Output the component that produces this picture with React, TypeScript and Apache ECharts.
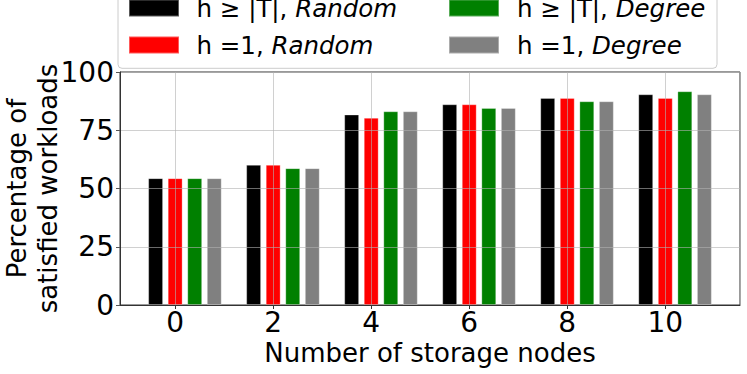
import React, { useEffect, useRef } from "react";
import * as echarts from "echarts";

const storageNodes = [0, 2, 4, 6, 8, 10];
const seriesNames = ["h ≥ |T|, Random", "h =1, Random", "h ≥ |T|, Degree", "h =1, Degree"];
const hTRandom = [54.4, 60.1, 81.7, 86.1, 88.8, 90.4];
const h1Random = [54.4, 60.1, 80.3, 86.1, 88.8, 88.8];
const hTDegree = [54.4, 58.7, 83.1, 84.5, 87.4, 91.7];
const h1Degree = [54.4, 58.7, 83.1, 84.5, 87.4, 90.4];
const seriesValues = [hTRandom, h1Random, hTDegree, h1Degree];
const colors = ["#000000", "#ff0000", "#008000", "#808080"];
const yTicks = [0, 25, 50, 75, 100];

const FONT = "DejaVu Sans";
const GRID_COLOR = "rgba(176,176,176,0.6)";
const LEGEND_FONT = 24.5;

export default function App() {
  const ref = useRef<HTMLDivElement>(null);
  useEffect(() => {
    if (!ref.current) return;
    const chart = echarts.init(ref.current, undefined, { renderer: "svg" });
    const iconLeft = [128, 128, 448, 448];
    const textLeft = [190.5, 190.5, 511, 511];
    const rowTop = [-6, 31, -6, 31];
    const textStyle = {
      fontSize: LEGEND_FONT,
      fontFamily: FONT,
      color: "#000",
      lineHeight: 28,
      rich: {
        it: { fontStyle: "italic", fontSize: LEGEND_FONT, fontFamily: FONT, color: "#000", lineHeight: 28 },
      },
    };
    const iconLegends = seriesNames.map((name, i) => ({
      data: [name],
      left: iconLeft[i],
      top: rowTop[i],
      icon: "rect",
      itemWidth: 50,
      itemHeight: 17,
      padding: 0,
      selectedMode: false,
      formatter: () => " ",
      textStyle,
    }));
    const textLegends = seriesNames.map((name, i) => ({
      data: [name],
      left: textLeft[i],
      top: rowTop[i],
      icon: "rect",
      itemWidth: 0,
      itemHeight: 0,
      itemStyle: { opacity: 0 },
      padding: 0,
      selectedMode: false,
      formatter: (n: string) => n.replace(/(Random|Degree)$/, "{it|$1}"),
      textStyle,
    }));
    const option: any = {
      animation: false,
      backgroundColor: "#fff",
      grid: {
        left: 120,
        right: 7,
        top: 72,
        bottom: 69,
        show: true,
        containLabel: false,
        outerBoundsMode: "none",
        borderColor: "#333",
        borderWidth: 1,
      },
      graphic: [
        {
          type: "rect",
          z: 0,
          shape: { x: 118, y: -10, width: 599, height: 78.3, r: 4 },
          style: { fill: "rgba(255,255,255,0.8)", stroke: "#cccccc", lineWidth: 1 },
        },
      ],
      legend: [...iconLegends, ...textLegends],
      xAxis: [
        {
          type: "value",
          min: -1.125,
          max: 11.525,
          splitNumber: 6,
          minInterval: 2,
          maxInterval: 2,
          z: 3,
          axisLine: { show: true, onZero: false, lineStyle: { color: "#333", width: 1 } },
          axisTick: { show: true, length: 4, lineStyle: { color: "#333" } },
          axisLabel: {
            fontSize: 28,
            fontFamily: FONT,
            color: "#000",
            margin: 3,
            showMinLabel: false,
            showMaxLabel: false,
            formatter: (v: number) => (storageNodes.includes(v) ? String(v) : ""),
          },
          splitLine: { show: true, lineStyle: { color: GRID_COLOR, width: 1 } },
          name: "Number of storage nodes",
          nameLocation: "middle",
          nameGap: 35,
          nameMoveOverlap: false,
          nameTextStyle: { fontSize: 26, fontFamily: FONT, color: "#000" },
        },
        {
          type: "value",
          min: -1.325,
          max: 11.325,
          show: false,
          splitLine: { show: false },
        },
      ],
      yAxis: {
        type: "value",
        min: yTicks[0],
        max: yTicks[yTicks.length - 1],
        interval: 25,
        z: 3,
        axisLine: { show: true, onZero: false, lineStyle: { color: "#333", width: 1 } },
        axisTick: { show: true, length: 4, lineStyle: { color: "#555" } },
        axisLabel: { fontSize: 28, fontFamily: FONT, color: "#000", margin: 6 },
        splitLine: { show: true, lineStyle: { color: GRID_COLOR, width: 1 } },
        name: "Percentage of\nsatisfied workloads",
        nameLocation: "middle",
        nameGap: 57,
        nameMoveOverlap: false,
        nameTextStyle: { fontSize: 26, fontFamily: FONT, color: "#000", lineHeight: 31 },
      },
      series: seriesNames.map((name, i) => ({
        name,
        type: "bar",
        xAxisIndex: 1,
        barWidth: 14.7,
        barGap: "33%",
        itemStyle: {
          color: colors[i],
          borderColor: "rgba(255,255,255,0.35)",
          borderWidth: 0.8,
        },
        data: storageNodes.map((x, j) => [x, seriesValues[i][j]]),
      })),
    };
    chart.setOption(option);
    return () => chart.dispose();
  }, []);
  return <div ref={ref} style={{ width: 747, height: 374, position: "absolute", left: 0, top: 0 }} />;
}
